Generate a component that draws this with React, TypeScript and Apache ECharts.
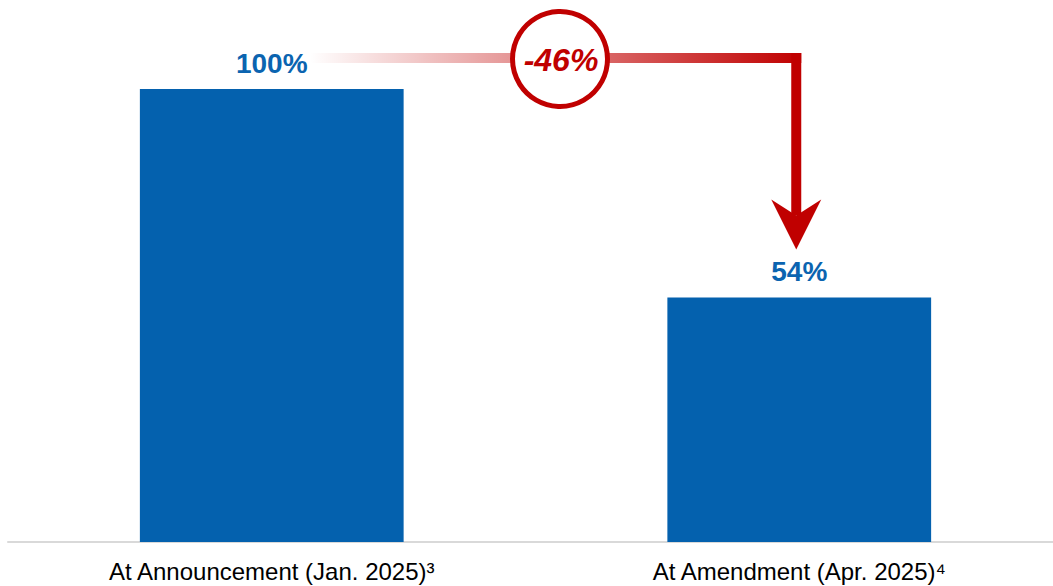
import React, { useEffect, useRef } from "react";
import * as echarts from "echarts";

const categories = ["At Announcement (Jan. 2025)³", "At Amendment (Apr. 2025)⁴"];
const values = [100, 54];
const changeLabel = "-46%";

const BLUE = "#0461ae";
const RED = "#c00000";

export default function App() {
  const ref = useRef<HTMLDivElement>(null);
  useEffect(() => {
    if (!ref.current) return;
    const chart = echarts.init(ref.current, null, { renderer: "svg" });
    chart.setOption({
      animation: false,
      backgroundColor: "#ffffff",
      grid: { left: 8, width: 1055, top: 89, bottom: 44, outerBoundsMode: "none", containLabel: false },
      xAxis: {
        type: "category",
        data: categories,
        axisLine: { show: true, lineStyle: { color: "#d9d9d9", width: 2 } },
        axisTick: { show: false },
        axisLabel: {
          color: "#000000",
          fontSize: 24,
          fontFamily: "Liberation Sans, Arial, sans-serif",
          margin: 17,
        },
      },
      yAxis: { type: "value", min: 0, max: 100, show: false, splitLine: { show: false } },
      series: [
        {
          type: "bar",
          data: values,
          barWidth: "50%",
          itemStyle: { color: BLUE },
          label: {
            show: true,
            position: "top",
            distance: 12,
            formatter: "{c}%",
            color: "#0b64b0",
            fontSize: 28,
            fontWeight: "bold",
            fontFamily: "Liberation Sans, Arial, sans-serif",
          },
        },
      ],
    });
    const p1 = chart.convertToPixel({ seriesIndex: 0 }, [0, values[0]]) as number[];
    const p2 = chart.convertToPixel({ seriesIndex: 0 }, [1, values[1]]) as number[];
    const lineY = p1[1] - 31;
    const vx = p2[0] - 3;
    const startX = p1[0] + 38;
    const headTop = p2[1] - 98;
    const tipY = p2[1] - 48;
    const cx = 560;
    chart.setOption({
      graphic: [
        {
          type: "rect",
          shape: { x: startX, y: lineY - 5, width: vx + 5 - startX, height: 10 },
          style: {
            fill: new echarts.graphic.LinearGradient(0, 0, 1, 0, [
              { offset: 0, color: "rgba(192,0,0,0)" },
              { offset: 1, color: RED },
            ]),
          },
          z: 10,
        },
        {
          type: "rect",
          shape: { x: vx - 5, y: lineY - 5, width: 10, height: headTop + 16 - (lineY - 5) },
          style: { fill: RED },
          z: 10,
        },
        {
          type: "polygon",
          shape: {
            points: [
              [vx - 25, headTop],
              [vx, tipY],
              [vx + 25, headTop],
              [vx, headTop + 16],
            ],
          },
          style: { fill: RED },
          z: 10,
        },
        {
          type: "circle",
          shape: { cx: cx, cy: lineY + 1, r: 47.5 },
          style: { fill: "#ffffff", stroke: RED, lineWidth: 5 },
          z: 11,
        },
        {
          type: "text",
          x: cx + 1,
          y: lineY + 2,
          style: {
            text: changeLabel,
            fill: RED,
            fontSize: 32,
            fontWeight: "bold",
            fontStyle: "italic",
            fontFamily: "Liberation Sans, Arial, sans-serif",
            align: "center",
            verticalAlign: "middle",
          },
          z: 12,
        },
      ],
    });
    return () => chart.dispose();
  }, []);
  return (
    <div
      ref={ref}
      style={{ position: "absolute", left: 0, top: 0, width: 1053, height: 586 }}
    />
  );
}
